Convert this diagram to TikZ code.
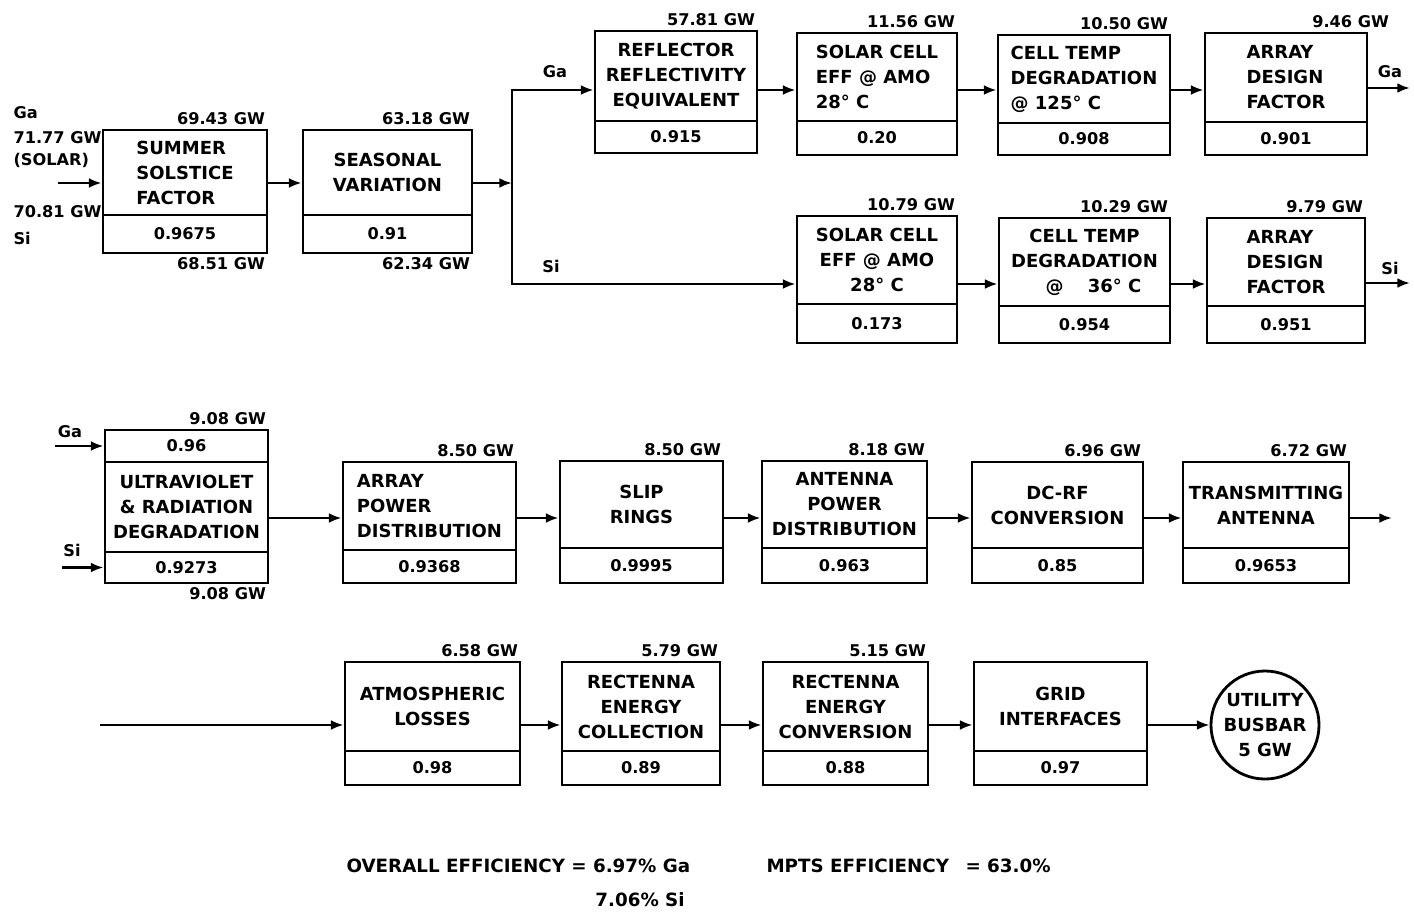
\documentclass[tikz,border=0pt]{standalone}
\usepackage{fontspec}
\setmainfont{DejaVu Sans}
\usetikzlibrary{arrows.meta}

\newcommand{\boxfont}{\bfseries\fontsize{12.8}{17.8}\selectfont}
\newcommand{\numfont}{\bfseries\fontsize{11.5}{14}\selectfont}
\newcommand{\efffont}{\bfseries\fontsize{13}{15}\selectfont}

% stage block: upper text part and lower factor part
\newcommand{\stage}[9][]{%
  \node[stagebox, minimum width={(#6-#3)*0.025cm}, minimum height={(#5-#4)*0.025cm}, #1]
    (#2) at ({(#3+#6)/2},{(#4+#5)/2}) {#8};
  \node[stagebox, valtext, minimum width={(#6-#3)*0.025cm}, minimum height={(#7-#5)*0.025cm}]
    (#2v) at ({(#3+#6)/2},{(#5+#7)/2}) {#9};}

\begin{document}
\begin{tikzpicture}[x=0.025cm, y=-0.025cm, line width=2pt,
    stagebox/.style={draw, rectangle, inner sep=2pt, align=center, font=\boxfont},
    valtext/.style={font=\numfont},
    gw/.style={font=\numfont, inner sep=1.5pt},
    eff/.style={font=\efffont, inner sep=1.5pt},
    flow/.style={-{Latex[length=9pt,width=7pt]}, line width=1.8pt}]
    \useasboundingbox (0,0) rectangle (1414,915);

    % Arrow levels
    \coordinate (r1) at (0,183);
    \coordinate (rga) at (0,90);
    \coordinate (rsi) at (0,284);
    \coordinate (r3) at (0,518);
    \coordinate (r4) at (0,725);

    % Row 1: common stages
    \stage[align=left]{sum}{103}{130}{215}{267}{253}{SUMMER\\SOLSTICE\\FACTOR}{0.9675}
    \stage{sea}{303}{130}{215}{472}{253}{SEASONAL\\VARIATION}{0.91}
    \node[gw, anchor=south east] (sumgw) at (sum.north east) {69.43 GW};
    \node[gw, anchor=north east] (sumgwb) at (sumv.south east) {68.51 GW};
    \node[gw, anchor=south east] (seagw) at (sea.north east) {63.18 GW};
    \node[gw, anchor=north east] (seagwb) at (seav.south east) {62.34 GW};

    \node[gw, anchor=west] (inga) at (10,113) {Ga};
    \node[gw, anchor=west] (inpow) at (10,138) {71.77 GW};
    \node[gw, anchor=west] (insol) at (10,160) {(SOLAR)};
    \node[gw, anchor=west] (insipow) at (10,212) {70.81 GW};
    \node[gw, anchor=west] (insi) at (10,238) {Si};

    % Ga branch
    \stage{refl}{595}{31}{121}{757}{153}{REFLECTOR\\REFLECTIVITY\\EQUIVALENT}{0.915}
    \stage[align=left]{scg}{797}{33}{121}{957}{155}{SOLAR CELL\\EFF @ AMO\\28° C}{0.20}
    \stage[align=left]{ctg}{998}{35}{123}{1170}{155}{CELL TEMP\\DEGRADATION\\@ 125° C}{0.908}
    \stage[align=left]{adg}{1205}{33}{122}{1367}{155}{ARRAY\\DESIGN\\FACTOR}{0.901}
    \node[gw, anchor=south east] (reflgw) at (refl.north east) {57.81 GW};
    \node[gw, anchor=south east] (scggw) at (scg.north east) {11.56 GW};
    \node[gw, anchor=south east] (ctggw) at (ctg.north east) {10.50 GW};
    \node[gw, anchor=south east, xshift=0.6cm] (adggw) at (adg.north east) {9.46 GW};

    % Si branch
    \stage{scs}{797}{216}{304}{957}{343}{SOLAR CELL\\EFF @ AMO\\28° C}{0.173}
    \stage{cts}{999}{218}{306}{1170}{343}{CELL TEMP\\DEGRADATION\\\quad@ \quad36° C}{0.954}
    \stage[align=left]{ads}{1207}{218}{306}{1365}{343}{ARRAY\\DESIGN\\FACTOR}{0.951}
    \node[gw, anchor=south east] (scsgw) at (scs.north east) {10.79 GW};
    \node[gw, anchor=south east] (ctsgw) at (cts.north east) {10.29 GW};
    \node[gw, anchor=south east] (adsgw) at (ads.north east) {9.79 GW};

    \coordinate (solin) at (58,183);
    \coordinate (split) at (512,183);
    \coordinate (gaout) at (1410,88);
    \coordinate (siout) at (1410,283);
    \draw[flow] (solin) -- (sum.west |- r1);
    \draw[flow] (sum.east |- r1) -- (sea.west |- r1);
    \draw[flow] (sea.east |- r1) -- (split);
    \draw[flow] (split) |- (refl.west |- rga);
    \draw[flow] (split) |- (scs.west |- rsi);
    \draw[flow] (refl.east |- rga) -- (scg.west |- rga);
    \draw[flow] (scg.east |- rga) -- (ctg.west |- rga);
    \draw[flow] (ctg.east |- rga) -- (adg.west |- rga);
    \draw[flow] (adg.east |- gaout) -- (gaout);
    \draw[flow] (scs.east |- rsi) -- (cts.west |- rsi);
    \draw[flow] (cts.east |- rsi) -- (ads.west |- rsi);
    \draw[flow] (ads.east |- siout) -- (siout);
    \node[gw] (brga) at (555,72) {Ga};
    \node[gw] (brsi) at (551,266) {Si};
    \node[gw] (outga) at (1390,72) {Ga};
    \node[gw] (outsi) at (1390,268) {Si};

    % Row 3: degradation and transmission
    \node[stagebox, valtext, minimum width=4.075cm, minimum height=0.8cm] (uvt) at (186.5,446) {0.96};
    \node[stagebox, minimum width=4.075cm, minimum height=2.25cm] (uv) at (186.5,507) {ULTRAVIOLET\\\& RADIATION\\DEGRADATION};
    \node[stagebox, valtext, minimum width=4.075cm, minimum height=0.775cm] (uvv) at (186.5,567.5) {0.9273};
    \node[gw, anchor=south east] (uvgw) at (uvt.north east) {9.08 GW};
    \node[gw, anchor=north east] (uvgwb) at (uvv.south east) {9.08 GW};
    \coordinate (uvga) at (55,446);
    \coordinate (uvsi) at (62,567.5);
    \draw[flow] (uvga) -- (uvt.west);
    \draw[flow] (uvsi) -- (uvv.west);
    \node[gw] (uvgal) at (70,432) {Ga};
    \node[gw] (uvsil) at (72,550) {Si};

    \stage[align=left]{apd}{343}{462}{550}{516}{583}{ARRAY\\POWER\\DISTRIBUTION}{0.9368}
    \stage{slip}{560}{461}{548}{723}{583}{SLIP\\RINGS}{0.9995}
    \stage{apw}{762}{461}{548}{927}{583}{ANTENNA\\POWER\\DISTRIBUTION}{0.963}
    \stage{dcrf}{972}{462}{548}{1143}{583}{DC-RF\\CONVERSION}{0.85}
    \stage{tx}{1183}{462}{548}{1349}{583}{TRANSMITTING\\ANTENNA}{0.9653}
    \node[gw, anchor=south east] (apdgw) at (apd.north east) {8.50 GW};
    \node[gw, anchor=south east] (slipgw) at (slip.north east) {8.50 GW};
    \node[gw, anchor=south east] (apwgw) at (apw.north east) {8.18 GW};
    \node[gw, anchor=south east] (dcrfgw) at (dcrf.north east) {6.96 GW};
    \node[gw, anchor=south east] (txgw) at (tx.north east) {6.72 GW};

    \coordinate (txout) at (1392,518);
    \draw[flow] (uv.east |- r3) -- (apd.west |- r3);
    \draw[flow] (apd.east |- r3) -- (slip.west |- r3);
    \draw[flow] (slip.east |- r3) -- (apw.west |- r3);
    \draw[flow] (apw.east |- r3) -- (dcrf.west |- r3);
    \draw[flow] (dcrf.east |- r3) -- (tx.west |- r3);
    \draw[flow] (tx.east |- r3) -- (txout);

    % Row 4: ground segment
    \stage{atm}{345}{662}{751}{520}{785}{ATMOSPHERIC\\LOSSES}{0.98}
    \stage{rec}{562}{662}{751}{720}{785}{RECTENNA\\ENERGY\\COLLECTION}{0.89}
    \stage{rcv}{763}{662}{751}{928}{785}{RECTENNA\\ENERGY\\CONVERSION}{0.88}
    \stage{grid}{974}{662}{751}{1147}{785}{GRID\\INTERFACES}{0.97}
    \node[draw, circle, minimum size=2.7cm, inner sep=0pt, align=center, font=\boxfont] (bus) at (1265,725) {UTILITY\\BUSBAR\\5 GW};
    \node[gw, anchor=south east] (atmgw) at (atm.north east) {6.58 GW};
    \node[gw, anchor=south east] (recgw) at (rec.north east) {5.79 GW};
    \node[gw, anchor=south east] (rcvgw) at (rcv.north east) {5.15 GW};

    \coordinate (atmin) at (100,725);
    \draw[flow] (atmin) -- (atm.west |- r4);
    \draw[flow] (atm.east |- r4) -- (rec.west |- r4);
    \draw[flow] (rec.east |- r4) -- (rcv.west |- r4);
    \draw[flow] (rcv.east |- r4) -- (grid.west |- r4);
    \draw[flow] (grid.east |- r4) -- (bus.west);

    % Efficiencies
    \node[eff, anchor=west] (effall) at (343,866) {OVERALL EFFICIENCY = 6.97\% Ga};
    \node[eff] (effsi) at (640,900) {7.06\% Si};
    \node[eff, anchor=west] (mpts) at (763,866) {MPTS EFFICIENCY};
    \node[eff, anchor=west] (mptsval) at (962,866) {= 63.0\%};
\end{tikzpicture}
\end{document}
